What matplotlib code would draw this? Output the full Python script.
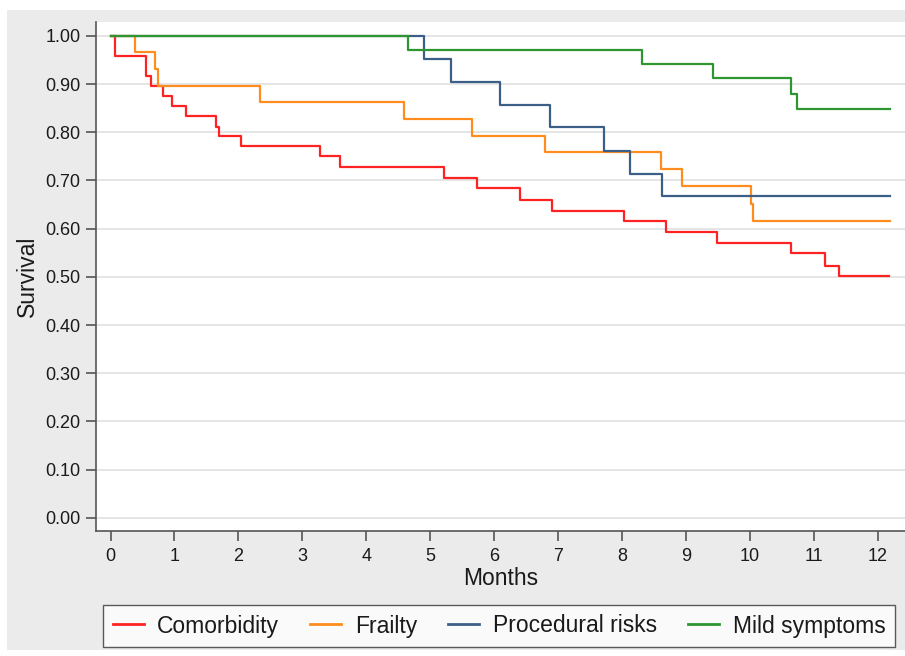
import matplotlib

matplotlib.use("Agg")
import matplotlib.pyplot as plt
from matplotlib.patches import Rectangle

plt.rcParams["font.family"] = ["Liberation Sans", "DejaVu Sans"]

# Kaplan-Meier steps (months, survival)
comorb_t = [0, 0.07, 0.56, 0.63, 0.82, 0.96, 1.18, 1.65, 1.70, 2.04, 3.27, 3.59,
            5.22, 5.73, 6.40, 6.90, 8.03, 8.69, 9.49, 10.65, 11.18, 11.39, 12.18]
comorb_s = [1.0, 0.958, 0.917, 0.896, 0.875, 0.854, 0.833, 0.812, 0.792, 0.771, 0.750, 0.729,
            0.706, 0.684, 0.659, 0.637, 0.616, 0.593, 0.570, 0.549, 0.523, 0.501, 0.501]

frailty_t = [0, 0.39, 0.70, 0.74, 2.34, 4.59, 5.66, 6.79, 8.62, 8.94, 10.02, 10.05, 12.19]
frailty_s = [1.0, 0.966, 0.931, 0.897, 0.862, 0.828, 0.793, 0.759, 0.724, 0.689, 0.652, 0.616, 0.616]

proc_t = [0, 4.90, 5.33, 6.10, 6.88, 7.72, 8.12, 8.63, 12.19]
proc_s = [1.0, 0.952, 0.905, 0.857, 0.810, 0.762, 0.714, 0.667, 0.667]

mild_t = [0, 4.66, 8.32, 9.42, 10.65, 10.74, 12.19]
mild_s = [1.0, 0.971, 0.941, 0.912, 0.880, 0.848, 0.848]

labels = ["Comorbidity", "Frailty", "Procedural risks", "Mild symptoms"]
colors = ["#ff2222", "#ff8c1e", "#3c5f88", "#2e9630"]

x_ticks = list(range(0, 13))
y_ticks = [i / 10 for i in range(0, 11)]

fig = plt.figure(figsize=(9.05, 6.56), dpi=100)
fig.patch.set_facecolor("white")
fig.patches.append(Rectangle((7 / 905, 6 / 656), 1 - 7 / 905, 640 / 656,
                             transform=fig.transFigure, facecolor="#ebebeb",
                             edgecolor="none", zorder=-10))

ax = fig.add_axes([96 / 905, 125 / 656, 809 / 905, 509 / 656])
ax.set_facecolor("white")

series = [(comorb_t, comorb_s), (frailty_t, frailty_s), (proc_t, proc_s), (mild_t, mild_s)]
for (t, s), label, color in zip(series, labels, colors):
    ax.step(t, s, where="post", color=color, linewidth=1.6, label=label)

ax.set_xlim(-0.227, 12.43)
ax.set_ylim(-0.0276, 1.029)
ax.set_xticks(x_ticks)
ax.set_yticks(y_ticks)
ax.set_yticklabels([f"{v:.2f}" for v in y_ticks])
ax.grid(True, axis="y", color="#e3e3e3", linewidth=1.3)
ax.set_axisbelow(True)

for side in ["top", "right"]:
    ax.spines[side].set_visible(False)
for side in ["left", "bottom"]:
    ax.spines[side].set_color("#555555")
    ax.spines[side].set_linewidth(1.2)
ax.tick_params(axis="both", direction="out", length=7, width=1.2, color="#555555",
               labelsize=13, labelcolor="#1a1a1a")
ax.tick_params(axis="y", pad=4)
ax.tick_params(axis="x", pad=5)

ax.set_xlabel("Months", fontsize=16.5, color="#1a1a1a", labelpad=2)
ax.set_ylabel("Survival", fontsize=16.5, color="#1a1a1a", labelpad=5)

leg = fig.legend(loc="center", bbox_to_anchor=(499 / 905, 30 / 656), ncol=4,
                 fontsize=16.5, frameon=True, fancybox=False, handlelength=1.35,
                 handletextpad=0.6, columnspacing=1.35, borderpad=0.4,
                 labelcolor="#1a1a1a")
leg.get_frame().set_edgecolor("#333333")
leg.get_frame().set_linewidth(1.0)
for line in leg.get_lines():
    line.set_linewidth(2.0)

fig.savefig("out.png", dpi=100)
